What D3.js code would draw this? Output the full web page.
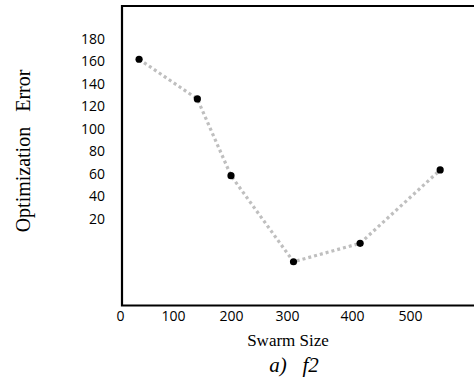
<!DOCTYPE html>
<html><head><meta charset="utf-8">
<script src="https://cdn.jsdelivr.net/npm/d3@7"></script>
<style>html,body{margin:0;background:#fff;overflow:hidden}svg{display:block}</style>
</head><body>
<svg id="c" width="474" height="387"></svg>
<script>
const swarmSize = [36, 142, 200, 310, 414, 552];
const optError = [162, 126.7, 58.5, -18, -1.6, 63.6];
const xTicks = [0, 100, 200, 300, 400, 500];
const yTicks = [20, 40, 60, 80, 100, 120, 140, 160, 180];

const svg = d3.select("#c");
const pLeft = 122, pTop = 6, pBottom = 305.5, pRight = 474;

// tick labels in the source figure are not evenly spaced; piecewise scale reproduces that
const x = d3.scaleLinear().domain([0,100,200,300,400,500]).range([120,173,231,287,352,410]);
const y = d3.scaleLinear().domain([-56.9, 209.6]).range([pBottom, pTop-0.3]);

// frame: top, left and bottom edges (right edge lies outside the picture)
svg.append("path")
  .attr("d", `M${pRight},${pTop}H${pLeft}V${pBottom}H${pRight}`)
  .attr("fill", "none").attr("stroke", "#000").attr("stroke-width", 2.2);

const yAxis = d3.axisLeft(y).tickValues(yTicks).tickSize(0).tickPadding(0);
const gy = svg.append("g").attr("transform", "translate(105,0)").call(yAxis);
gy.select(".domain").remove();
gy.selectAll("text").attr("font-family", "Open Sans").attr("font-size", 14).attr("fill", "#000");

const xAxis = d3.axisBottom(x).tickValues(xTicks).tickSize(0).tickPadding(0);
const gx = svg.append("g").attr("transform", "translate(0,311)").call(xAxis);
gx.select(".domain").remove();
gx.selectAll("text").attr("font-family", "Open Sans").attr("font-size", 14).attr("fill", "#000");

const pts = swarmSize.map((s,i)=>[s, optError[i]]);
svg.append("path").datum(pts)
  .attr("d", d3.line().x(d=>x(d[0])).y(d=>y(d[1])))
  .attr("fill","none").attr("stroke","#bfbfbf").attr("stroke-width",3.2).attr("stroke-dasharray","3,3");
svg.selectAll("circle.p").data(pts).enter().append("circle")
  .attr("cx", d=>x(d[0])).attr("cy", d=>y(d[1])).attr("r", 3.6).attr("fill","#000");

svg.append("text").attr("x", 288).attr("y", 346).attr("text-anchor","middle")
  .attr("font-family","Liberation Serif").attr("font-size",17).text("Swarm Size");
svg.append("text").attr("x", 294).attr("y", 372).attr("text-anchor","middle")
  .attr("font-family","Liberation Serif").attr("font-style","italic").attr("font-size",21)
  .style("white-space","pre").text("a)   f2");
svg.append("text").attr("transform","translate(30,151) rotate(-90)").attr("text-anchor","middle")
  .attr("font-family","Liberation Serif").attr("font-size",20)
  .style("white-space","pre").text("Optimization   Error");
</script>
</body></html>
